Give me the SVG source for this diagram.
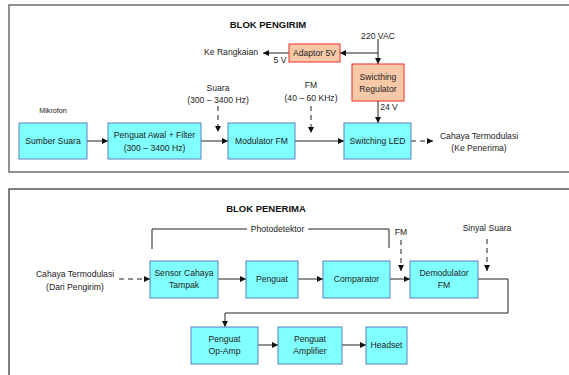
<svg xmlns="http://www.w3.org/2000/svg" width="569" height="375" viewBox="0 0 569 375">
<defs>
<marker id="ah" viewBox="0 0 6 6" refX="6" refY="3" markerWidth="6" markerHeight="6" markerUnits="userSpaceOnUse" orient="auto">
<path d="M0,0 L6,3 L0,6 z" fill="#111"/>
</marker>
</defs>
<style>
.frame{fill:#fff;stroke:#6e6e6e;stroke-width:1.5}
.frame2{fill:#fff;stroke:#3a3a3a;stroke-width:1.3}
.box{fill:#80ffff;stroke:#5b7fbf;stroke-width:1}
.obox{fill:#f8c9a8;stroke:#ee2a2a;stroke-width:1}
.t{font-family:"Liberation Sans",Arial,sans-serif;font-size:8.6px;fill:#222;text-anchor:middle}
.s{font-family:"Liberation Sans",Arial,sans-serif;font-size:7.2px;fill:#222;text-anchor:middle}
.h{font-family:"Liberation Sans",Arial,sans-serif;font-size:9.5px;font-weight:bold;fill:#111;text-anchor:middle}
.c{fill:none;stroke:#222;stroke-width:1}
.a{marker-end:url(#ah)}
.d{stroke-dasharray:5,4}
</style>
<rect class="frame" x="9" y="5" width="570" height="167"/>
<rect class="frame2" x="9" y="189" width="570" height="200"/>
<text class="h" x="268" y="28">BLOK PENGIRIM</text>
<text class="h" x="266" y="212">BLOK PENERIMA</text>

<g id="connectors">
<path class="c a" d="M87,141 H108"/>
<path class="c a" d="M201,141 H228"/>
<path class="c a" d="M295,141 H344"/>
<path class="c a d" d="M411,141 H433"/>
<path class="c a d" d="M218,106 V132"/>
<path class="c a d" d="M311,106 V133"/>
<path class="c" d="M378,39 V53"/>
<path class="c a" d="M378,53 H340"/>
<path class="c a" d="M378,53 V64"/>
<path class="c a" d="M289,53 H263"/>
<path class="c a" d="M378,101 V123"/>
<path class="c a d" d="M119,279 H150"/>
<path class="c a" d="M218,279 H246"/>
<path class="c a" d="M298,279 H323"/>
<path class="c a" d="M390,279 H410"/>
<path class="c a d" d="M401,240 V271"/>
<path class="c a d" d="M487,239 V271"/>
<path class="c a" d="M478,279 H508 V313 H225 V327"/>
<path class="c a" d="M258,345 H278"/>
<path class="c a" d="M342,345 H366"/>
<path class="c" d="M152,249 V229 H247 M308,229 H389 V248"/>
</g>

<g id="sumber"><rect class="box" x="19" y="123" width="68" height="36"/><text class="t" x="53" y="144">Sumber Suara</text></g>
<g id="penguat-awal"><rect class="box" x="108" y="123" width="93" height="36"/><text class="t" x="154.5" y="138">Penguat Awal + Filter</text><text class="t" x="154.5" y="151">(300 – 3400 Hz)</text></g>
<g id="modulator"><rect class="box" x="228" y="123" width="67" height="36"/><text class="t" x="261.5" y="144">Modulator FM</text></g>
<g id="switching-led"><rect class="box" x="344" y="123" width="67" height="36"/><text class="t" x="377.5" y="144">Switching LED</text></g>
<g id="adaptor"><rect class="obox" x="289" y="44" width="51" height="18"/><text class="t" x="314.5" y="56">Adaptor 5V</text></g>
<g id="regulator"><rect class="obox" x="352" y="64" width="52" height="37"/><text class="t" x="378" y="80">Swicthing</text><text class="t" x="378" y="92">Regulator</text></g>

<g id="labels-top">
<text class="s" x="53" y="113">Mikrofon</text>
<text class="t" x="378" y="39">220 VAC</text>
<text class="t" x="258" y="55" style="text-anchor:end">Ke Rangkaian</text>
<text class="t" x="280" y="63">5 V</text>
<text class="t" x="389" y="110">24 V</text>
<text class="t" x="218" y="91">Suara</text>
<text class="t" x="218" y="103">(300 – 3400 Hz)</text>
<text class="t" x="311" y="88">FM</text>
<text class="t" x="311" y="101">(40 – 60 KHz)</text>
<text class="t" x="479" y="139">Cahaya Termodulasi</text>
<text class="t" x="479" y="151">(Ke Penerima)</text>
</g>

<g id="sensor"><rect class="box" x="150" y="261" width="68" height="37"/><text class="t" x="184" y="276">Sensor Cahaya</text><text class="t" x="184" y="288">Tampak</text></g>
<g id="penguat"><rect class="box" x="246" y="261" width="52" height="37"/><text class="t" x="272" y="282">Penguat</text></g>
<g id="comparator"><rect class="box" x="323" y="261" width="67" height="37"/><text class="t" x="356.5" y="282">Comparator</text></g>
<g id="demodulator"><rect class="box" x="410" y="261" width="68" height="37"/><text class="t" x="444" y="276">Demodulator</text><text class="t" x="444" y="288">FM</text></g>
<g id="opamp"><rect class="box" x="191" y="327" width="67" height="37"/><text class="t" x="224.5" y="342">Penguat</text><text class="t" x="224.5" y="354">Op-Amp</text></g>
<g id="amplifier"><rect class="box" x="278" y="327" width="64" height="37"/><text class="t" x="310" y="342">Penguat</text><text class="t" x="310" y="354">Amplifier</text></g>
<g id="headset"><rect class="box" x="366" y="327" width="41" height="37"/><text class="t" x="386.5" y="348">Headset</text></g>

<g id="labels-bottom">
<text class="t" x="277.5" y="232">Photodetektor</text>
<text class="t" x="401" y="235">FM</text>
<text class="t" x="487" y="231">Sinyal Suara</text>
<text class="t" x="75" y="277">Cahaya Termodulasi</text>
<text class="t" x="75" y="290">(Dari Pengirim)</text>
</g>
</svg>
